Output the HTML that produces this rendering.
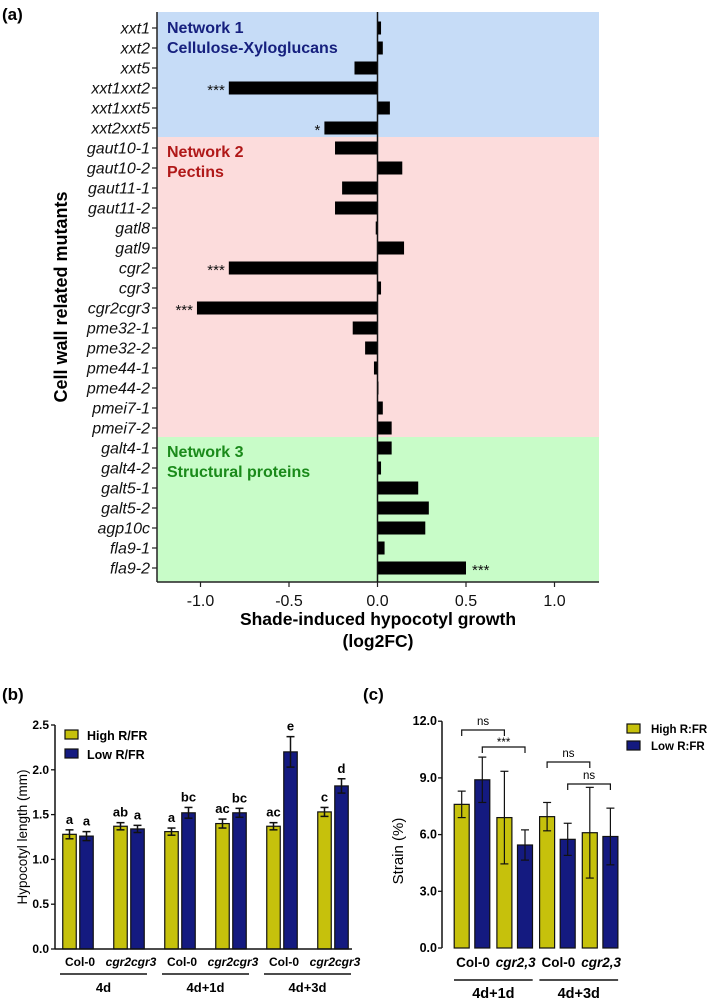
<!DOCTYPE html>
<html><head><meta charset="utf-8"><style>
html,body{margin:0;padding:0;background:#fff;}
svg{display:block;font-family:"Liberation Sans",Arial,sans-serif;}
</style></head><body>
<svg id="fig" width="709" height="1002" viewBox="0 0 709 1002" xmlns="http://www.w3.org/2000/svg">
<text x="2" y="20" font-size="17" font-weight="bold">(a)</text>
<text x="2" y="700" font-size="17" font-weight="bold">(b)</text>
<text x="363" y="700" font-size="17" font-weight="bold">(c)</text>
<g id="pa"></g>
<g id="pb"></g>
<g id="pc"></g>
</svg>
<script>
// Panel A data
const mutants = ["xxt1","xxt2","xxt5","xxt1xxt2","xxt1xxt5","xxt2xxt5","gaut10-1","gaut10-2","gaut11-1","gaut11-2","gatl8","gatl9","cgr2","cgr3","cgr2cgr3","pme32-1","pme32-2","pme44-1","pme44-2","pmei7-1","pmei7-2","galt4-1","galt4-2","galt5-1","galt5-2","agp10c","fla9-1","fla9-2"];
const log2fc = [0.02,0.03,-0.13,-0.84,0.07,-0.30,-0.24,0.14,-0.20,-0.24,-0.01,0.15,-0.84,0.02,-1.02,-0.14,-0.07,-0.02,0.0,0.03,0.08,0.08,0.02,0.23,0.29,0.27,0.04,0.50];
const sigA = ["","","","***","","*","","","","","","","***","","***","","","","","","","","","","","","","***"];
const xTicksA = [-1.0,-0.5,0.0,0.5,1.0];
// Panel B data
const groupsB = ["Col-0","cgr2cgr3","Col-0","cgr2cgr3","Col-0","cgr2cgr3"];
const highB = [1.28,1.37,1.31,1.40,1.37,1.53];
const highErrB = [0.05,0.04,0.04,0.05,0.04,0.05];
const lowB = [1.26,1.34,1.52,1.52,2.20,1.82];
const lowErrB = [0.05,0.04,0.06,0.05,0.17,0.08];
const highLetB = ["a","ab","a","ac","ac","c"];
const lowLetB = ["a","a","bc","bc","e","d"];
const timesB = ["4d","4d+1d","4d+3d"];
const yTicksB = [0.0,0.5,1.0,1.5,2.0,2.5];
// Panel C data
const groupsC = ["Col-0","cgr2,3","Col-0","cgr2,3"];
const highC = [7.6,6.9,6.95,6.1];
const highErrC = [0.7,2.45,0.75,2.4];
const lowC = [8.9,5.45,5.75,5.9];
const lowErrC = [1.2,0.8,0.85,1.5];
const timesC = ["4d+1d","4d+3d"];
const yTicksC = [0.0,3.0,6.0,9.0,12.0];

const NS="http://www.w3.org/2000/svg";
function mk(parent,tag,attrs,text){const e=document.createElementNS(NS,tag);for(const k in attrs)e.setAttribute(k,attrs[k]);if(text!==undefined)e.textContent=text;parent.appendChild(e);return e;}
const YEL="#c6c10c", BLU="#141a80";

// ---------- Panel A ----------
(function(){
 const g=document.getElementById('pa');
 const L=157,R=599,T=12,B=582;
 const x=v=>377.5+v*177;
 const rowY=i=>28+i*20.0;
 let r;
 r=mk(g,'rect',{x:L,y:T,width:R-L,height:137-T,fill:"#c6dcf7"});
 
 r=mk(g,'rect',{x:L,y:137,width:R-L,height:437-137,fill:"#fcdcdc"});
 
 r=mk(g,'rect',{x:L,y:437,width:R-L,height:B-437,fill:"#c8fcc8"});
 
 let t;
 t=mk(g,'text',{x:167,y:33,"font-size":16,"font-weight":"bold",fill:"#16207e"},"Network 1");
 t=mk(g,'text',{x:167,y:53,"font-size":16,"font-weight":"bold",fill:"#16207e"},"Cellulose-Xyloglucans");
 t=mk(g,'text',{x:167,y:157,"font-size":16,"font-weight":"bold",fill:"#b01818"},"Network 2");
 t=mk(g,'text',{x:167,y:177,"font-size":16,"font-weight":"bold",fill:"#b01818"},"Pectins");
 t=mk(g,'text',{x:167,y:457,"font-size":16,"font-weight":"bold",fill:"#1a8a1a"},"Network 3");
 t=mk(g,'text',{x:167,y:477,"font-size":16,"font-weight":"bold",fill:"#1a8a1a"},"Structural proteins");
 mutants.forEach((m,i)=>{
  const y=rowY(i), v=log2fc[i];
  const b=mk(g,'rect',{x:Math.min(x(0),x(v)),y:y-6.5,width:Math.max(Math.abs(x(v)-x(0)),1),height:13,fill:"#000"});
  
  const l=mk(g,'text',{x:150,y:y+5.5,"font-size":16,"font-style":"italic","text-anchor":"end",fill:"#111"},m);
  
  mk(g,'line',{x1:152,x2:L,y1:y,y2:y,stroke:"#222","stroke-width":1.2});
  if(sigA[i]){
   const sx = v<0 ? x(v)-4 : x(v)+6;
   const s=mk(g,'text',{x:sx,y:y+7,"font-size":15,"text-anchor":v<0?"end":"start",fill:"#111"},sigA[i]);
   
  }
 });
 mk(g,'line',{x1:L,x2:L,y1:T,y2:B,stroke:"#222","stroke-width":1.5});
 mk(g,'line',{x1:L,x2:R,y1:B,y2:B,stroke:"#222","stroke-width":1.5});
 mk(g,'line',{x1:x(0),x2:x(0),y1:T,y2:B,stroke:"#111","stroke-width":1.5});
 xTicksA.forEach(v=>{
  mk(g,'line',{x1:x(v),x2:x(v),y1:B,y2:B+5,stroke:"#222","stroke-width":1.2});
  const l=mk(g,'text',{x:x(v),y:B+24,"font-size":16,"text-anchor":"middle",fill:"#111"},v.toFixed(1));
  
 });
 t=mk(g,'text',{x:378,y:625,"font-size":17.5,"font-weight":"bold","text-anchor":"middle"},"Shade-induced hypocotyl growth");
 t=mk(g,'text',{x:378,y:647,"font-size":17.5,"font-weight":"bold","text-anchor":"middle"},"(log2FC)");
 t=mk(g,'text',{x:0,y:0,"font-size":18,"font-weight":"bold","text-anchor":"middle",transform:"translate(67,297) rotate(-90)"},"Cell wall related mutants");
})();

// ---------- Panel B ----------
(function(){
 const g=document.getElementById('pb');
 const L=55,R=352,B0=949;
 const y=v=>B0-v*89.6;
 const cx=i=>78+i*51;
 const bw=13.5;
 function bar(xc,v,e,col,name,let_){
  const r=mk(g,'rect',{x:xc-bw/2,y:y(v),width:bw,height:y(0)-y(v),fill:col,stroke:"#111","stroke-width":1.2});
  
  mk(g,'line',{x1:xc,x2:xc,y1:y(v+e),y2:y(v-e),stroke:"#111","stroke-width":1.5});
  mk(g,'line',{x1:xc-4,x2:xc+4,y1:y(v+e),y2:y(v+e),stroke:"#111","stroke-width":1.5});
  mk(g,'line',{x1:xc-4,x2:xc+4,y1:y(v-e),y2:y(v-e),stroke:"#111","stroke-width":1.5});
  const t=mk(g,'text',{x:xc,y:y(v+e)-6,"font-size":13,"font-weight":"bold","text-anchor":"middle"},let_);
  
 }
 groupsB.forEach((gr,i)=>{
  bar(cx(i)-8.5,highB[i],highErrB[i],YEL,'bar-high-rfr',highLetB[i]);
  bar(cx(i)+8.5,lowB[i],lowErrB[i],BLU,'bar-low-rfr',lowLetB[i]);
  const t=mk(g,'text',{x:cx(i)+2,y:966,"font-size":12,"font-weight":"bold","text-anchor":"middle","font-style":gr==="Col-0"?"normal":"italic"},gr);
  
 });
 timesB.forEach((tm,k)=>{
  const x1=cx(2*k)-18,x2=cx(2*k+1)+18;
  mk(g,'line',{x1:x1,x2:x2,y1:974,y2:974,stroke:"#111","stroke-width":1.5});
  const t=mk(g,'text',{x:(x1+x2)/2,y:992,"font-size":13,"font-weight":"bold","text-anchor":"middle"},tm);
  
 });
 mk(g,'line',{x1:L,x2:L,y1:y(2.5),y2:B0,stroke:"#111","stroke-width":1.5});
 mk(g,'line',{x1:L,x2:R,y1:B0,y2:B0,stroke:"#111","stroke-width":1.5});
 yTicksB.forEach(v=>{
  mk(g,'line',{x1:L-4,x2:L,y1:y(v),y2:y(v),stroke:"#111","stroke-width":1.3});
  const t=mk(g,'text',{x:L-6,y:y(v)+4,"font-size":12,"font-weight":"bold","text-anchor":"end"},v.toFixed(1));
  
 });
 let t=mk(g,'text',{x:0,y:0,"font-size":13.5,"text-anchor":"middle",transform:"translate(27,837) rotate(-90)"},"Hypocotyl length (mm)");
 
 let r=mk(g,'rect',{x:65,y:730,width:13,height:9,fill:YEL,stroke:"#111","stroke-width":1.2});
 t=mk(g,'text',{x:87,y:740,"font-size":12.5,"font-weight":"bold"},"High R/FR");
 r=mk(g,'rect',{x:65,y:749,width:13,height:9,fill:BLU,stroke:"#111","stroke-width":1.2});
 t=mk(g,'text',{x:87,y:759,"font-size":12.5,"font-weight":"bold"},"Low R/FR");
})();

// ---------- Panel C ----------
(function(){
 const g=document.getElementById('pc');
 const L=442,B0=948;
 const y=v=>B0-v*18.9;
 const cx=i=>472+i*42.7;
 const bw=15;
 function bar(xc,v,e,col,name){
  const r=mk(g,'rect',{x:xc-bw/2,y:y(v),width:bw,height:y(0)-y(v),fill:col,stroke:"#111","stroke-width":1.2});
  
  mk(g,'line',{x1:xc,x2:xc,y1:y(v+e),y2:y(v-e),stroke:"#111","stroke-width":1.2});
  mk(g,'line',{x1:xc-4,x2:xc+4,y1:y(v+e),y2:y(v+e),stroke:"#111","stroke-width":1.2});
  mk(g,'line',{x1:xc-4,x2:xc+4,y1:y(v-e),y2:y(v-e),stroke:"#111","stroke-width":1.2});
 }
 groupsC.forEach((gr,i)=>{
  bar(cx(i)-10.3,highC[i],highErrC[i],YEL,'bar-high-rfr');
  bar(cx(i)+10.3,lowC[i],lowErrC[i],BLU,'bar-low-rfr');
  const t=mk(g,'text',{x:cx(i)+1,y:967,"font-size":13.5,"font-weight":"bold","text-anchor":"middle","font-style":gr==="Col-0"?"normal":"italic"},gr);
  
 });
 timesC.forEach((tm,k)=>{
  const x1=cx(2*k)-18,x2=cx(2*k+1)+18;
  mk(g,'line',{x1:x1,x2:x2,y1:980,y2:980,stroke:"#111","stroke-width":1.5});
  const t=mk(g,'text',{x:(x1+x2)/2,y:998,"font-size":14.5,"font-weight":"bold","text-anchor":"middle"},tm);
  
 });
 function bracket(xa,xb,yy,lab,ly){
  const p=mk(g,'path',{d:`M${xa},${yy+6}V${yy}H${xb}V${yy+6}`,fill:"none",stroke:"#111","stroke-width":1.2});
  
  const t=mk(g,'text',{x:(xa+xb)/2,y:ly,"font-size":11.5,"text-anchor":"middle"},lab);
  
 }
 bracket(cx(0)-10.3,cx(1)-10.3,730,"ns",725);
 bracket(cx(0)+10.3,cx(1)+10.3,747,"***",746);
 bracket(cx(2)-10.3,cx(3)-10.3,762,"ns",757);
 bracket(cx(2)+10.3,cx(3)+10.3,784,"ns",779);
 mk(g,'line',{x1:L,x2:L,y1:y(12),y2:B0,stroke:"#111","stroke-width":1.5});
 yTicksC.forEach(v=>{
  mk(g,'line',{x1:L-4,x2:L,y1:y(v),y2:y(v),stroke:"#111","stroke-width":1.3});
  const t=mk(g,'text',{x:L-5,y:y(v)+4,"font-size":12.5,"font-weight":"bold","text-anchor":"end"},v.toFixed(1));
  
 });
 let t=mk(g,'text',{x:0,y:0,"font-size":15,"text-anchor":"middle",transform:"translate(403,851) rotate(-90)"},"Strain (%)");
 
 let r=mk(g,'rect',{x:627,y:724,width:13,height:9,fill:YEL,stroke:"#111","stroke-width":1.2});
 t=mk(g,'text',{x:651,y:733,"font-size":11.5,"font-weight":"bold"},"High R:FR");
 r=mk(g,'rect',{x:627,y:741,width:13,height:9,fill:BLU,stroke:"#111","stroke-width":1.2});
 t=mk(g,'text',{x:651,y:750,"font-size":11.5,"font-weight":"bold"},"Low R:FR");
})();
</script>
</body></html>
